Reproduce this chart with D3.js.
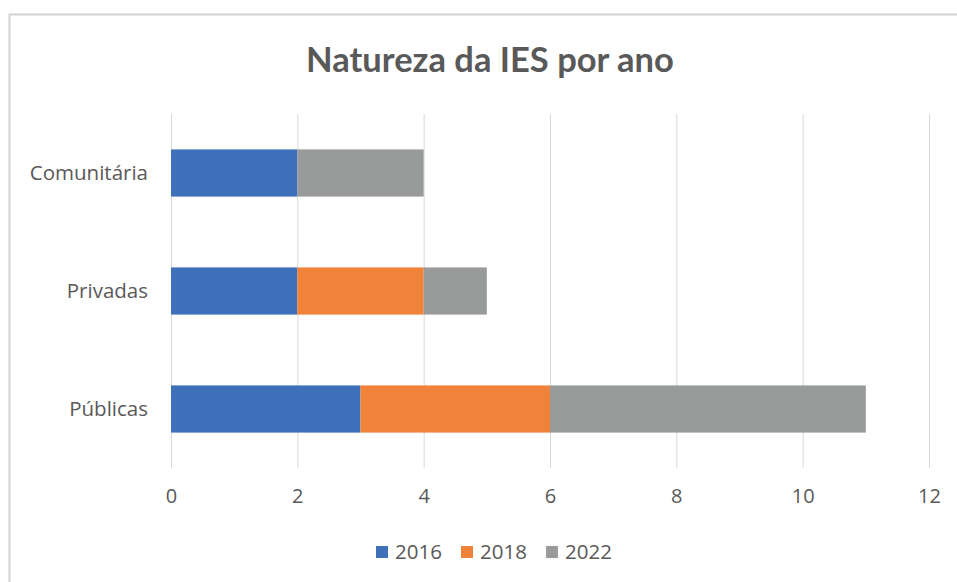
<!DOCTYPE html>
<html><head><meta charset="utf-8">
<script src="https://cdn.jsdelivr.net/npm/d3@7"></script>
<style>html,body{margin:0;padding:0;background:#fff;}svg{display:block;}</style>
</head><body>
<svg id="c" width="957" height="582"></svg>
<script>
const categories = ["Comunitária", "Privadas", "Públicas"];
const seriesNames = ["2016", "2018", "2022"];
const values2016 = [2, 2, 3];
const values2018 = [0, 2, 3];
const values2022 = [2, 1, 5];
const xTicks = [0, 2, 4, 6, 8, 10, 12];
const colors = ["#3F71BA", "#F0823A", "#999B9B"];
const title = "Natureza da IES por ano";

const svg = d3.select("#c");
const font = "'Open Sans', sans-serif";
const titleFont = "Lato, 'Open Sans', sans-serif";
const textColor = "#595959";

svg.append("rect").attr("x", 9.5).attr("y", 14.5).attr("width", 1200).attr("height", 1200)
  .attr("fill", "#fff").attr("stroke", "#d4d4d4").attr("stroke-width", 2);

svg.append("text").attr("x", 490).attr("y", 72).attr("text-anchor", "middle")
  .attr("font-family", titleFont).attr("font-weight", "bold").attr("font-size", 34.5)
  .attr("fill", textColor).text(title);

const x = d3.scaleLinear().domain([0, 12]).range([171, 929]);
const y = d3.scaleBand().domain(categories).range([114, 468]).paddingInner(0.6).paddingOuter(0.3);

const rows = categories.map((c, i) => ({cat: c, "2016": values2016[i], "2018": values2018[i], "2022": values2022[i]}));
const stack = d3.stack().keys(seriesNames)(rows);

// gridlines
svg.append("g").selectAll("line").data(xTicks).join("line")
  .attr("x1", d => x(d) + 0.5).attr("x2", d => x(d) + 0.5)
  .attr("y1", 114).attr("y2", 468)
  .attr("stroke", "#d9d9d9").attr("stroke-width", 1);

// bars
svg.append("g").selectAll("g").data(stack).join("g")
  .attr("fill", (d, i) => colors[i])
  .selectAll("rect").data(d => d).join("rect")
  .attr("x", d => x(d[0])).attr("width", d => x(d[1]) - x(d[0]))
  .attr("y", d => y(d.data.cat)).attr("height", y.bandwidth());

// x axis labels
const xAxis = d3.axisBottom(x).tickValues(xTicks).tickSize(0).tickPadding(0);
const gx = svg.append("g").attr("transform", "translate(0,489)").call(xAxis);
gx.select(".domain").remove();
gx.selectAll("text").attr("font-family", font).attr("font-size", 20).attr("fill", textColor).attr("dy", "0.71em");

// y axis labels
const yAxis = d3.axisLeft(y).tickSize(0).tickPadding(0);
const gy = svg.append("g").attr("transform", "translate(148,0)").call(yAxis);
gy.select(".domain").remove();
gy.selectAll("text").attr("font-family", font).attr("font-size", 20.5).attr("fill", textColor);

// legend
const legendTextX = [395, 480, 565];
const lg = svg.append("g").selectAll("g").data(seriesNames).join("g")
  .attr("transform", (d, i) => `translate(${legendTextX[i]},552)`);
lg.append("rect").attr("x", -19).attr("y", -6).attr("width", 12).attr("height", 12).attr("fill", (d, i) => colors[i]);
lg.append("text").attr("x", 0).attr("y", 0).attr("dy", "0.35em")
  .attr("font-family", font).attr("font-size", 20.5).attr("fill", textColor).text(d => d);
</script>
</body></html>
